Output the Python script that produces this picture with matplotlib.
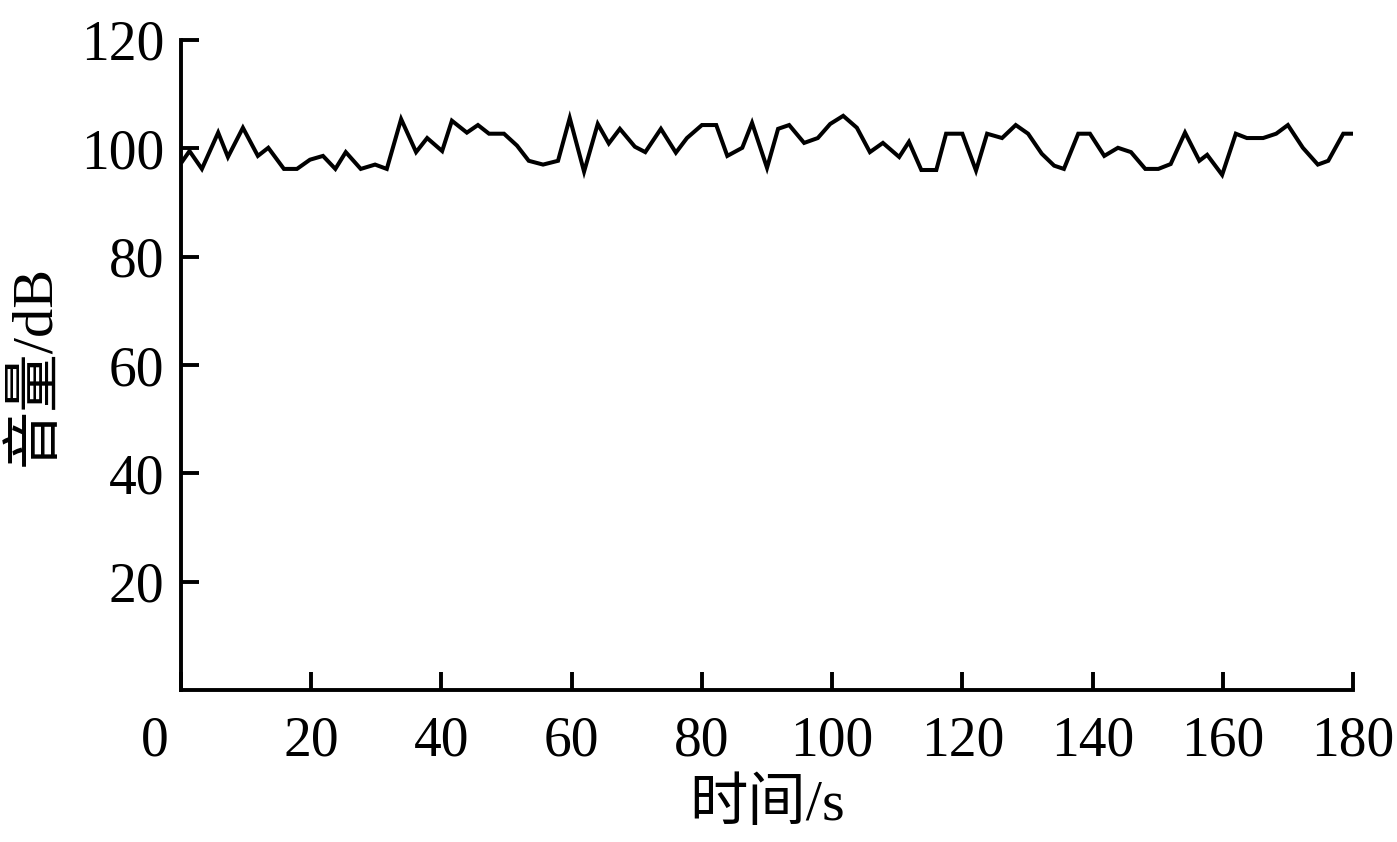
import matplotlib
matplotlib.use('Agg')
import matplotlib.pyplot as plt
import matplotlib.transforms as mtransforms

# time (s) and volume (dB)
t = [0.2, 1.3, 3.2, 5.7, 7.2, 9.5, 11.8, 13.4, 15.8, 17.8, 19.8, 21.8, 23.7,
     25.3, 27.6, 29.8, 31.6, 33.8, 36.1, 37.8, 40.1, 41.6, 43.9, 45.6, 47.3,
     49.6, 51.6, 53.4, 55.6, 57.9, 59.7, 61.9, 64.0, 65.7, 67.4, 69.7, 71.3,
     73.7, 76.0, 77.7, 80.0, 82.2, 83.9, 86.2, 87.7, 90.0, 91.7, 93.4, 95.7,
     97.8, 99.7, 101.7, 103.8, 105.8, 107.8, 110.3, 111.8, 113.7, 116.0,
     117.5, 120.0, 122.1, 123.8, 126.1, 128.2, 130.1, 132.2, 134.1, 135.6,
     137.8, 139.6, 141.8, 143.9, 145.9, 148.1, 150.1, 152.0, 154.2, 156.4,
     157.6, 159.9, 162.0, 163.7, 166.2, 168.2, 170.0, 172.3, 174.6, 176.2,
     178.5, 180.0]
vol = [97.6, 99.5, 96.2, 102.9, 98.4, 103.8, 98.6, 100.1, 96.2, 96.2, 97.9,
       98.6, 96.2, 99.3, 96.2, 97.0, 96.2, 105.4, 99.3, 101.9, 99.5, 105.1,
       102.9, 104.3, 102.7, 102.7, 100.5, 97.7, 97.0, 97.7, 105.6, 95.7,
       104.5, 100.9, 103.6, 100.3, 99.3, 103.6, 99.2, 101.9, 104.3, 104.3,
       98.6, 100.1, 104.7, 96.4, 103.6, 104.3, 101.0, 101.9, 104.5, 106.0,
       103.8, 99.3, 101.0, 98.4, 101.2, 96.0, 96.0, 102.7, 102.7, 95.9,
       102.7, 101.9, 104.3, 102.7, 99.0, 96.8, 96.2, 102.7, 102.7, 98.6,
       100.1, 99.3, 96.2, 96.2, 97.1, 102.9, 97.7, 98.8, 95.1, 102.7, 101.9,
       101.9, 102.7, 104.3, 100.1, 97.0, 97.7, 102.7, 102.7]

xticks = list(range(0, 181, 20))
yticks = list(range(20, 121, 20))

plt.rcParams['font.family'] = ['Liberation Serif', 'Noto Sans CJK SC']

fig = plt.figure(figsize=(13.97, 8.42), dpi=100)
ax = fig.add_axes([0.1296, 0.1805, 0.8389, 0.772])

ax.plot(t, vol, color='black', linewidth=2.9, solid_joinstyle='miter')

ax.set_xlim(0, 180)
ax.set_ylim(0, 120)
ax.set_xticks(xticks)
ax.set_yticks(yticks)
ax.tick_params(direction='in', length=13, width=2.8, labelsize=40, pad=12)
ax.tick_params(axis='x', pad=18)

for s in ['top', 'right']:
    ax.spines[s].set_visible(False)
for s in ['left', 'bottom']:
    ax.spines[s].set_linewidth(2.8)

# the "0" sits left of the origin
lab0 = ax.get_xticklabels()[0]
lab0.set_transform(lab0.get_transform() +
                   mtransforms.ScaledTranslation(-0.26, 0, fig.dpi_scale_trans))

ax.set_xlabel('时间/s', fontsize=42, labelpad=8)
ax.set_ylabel('音量/dB', fontsize=42, labelpad=14)

fig.savefig('out.png', dpi=100)
